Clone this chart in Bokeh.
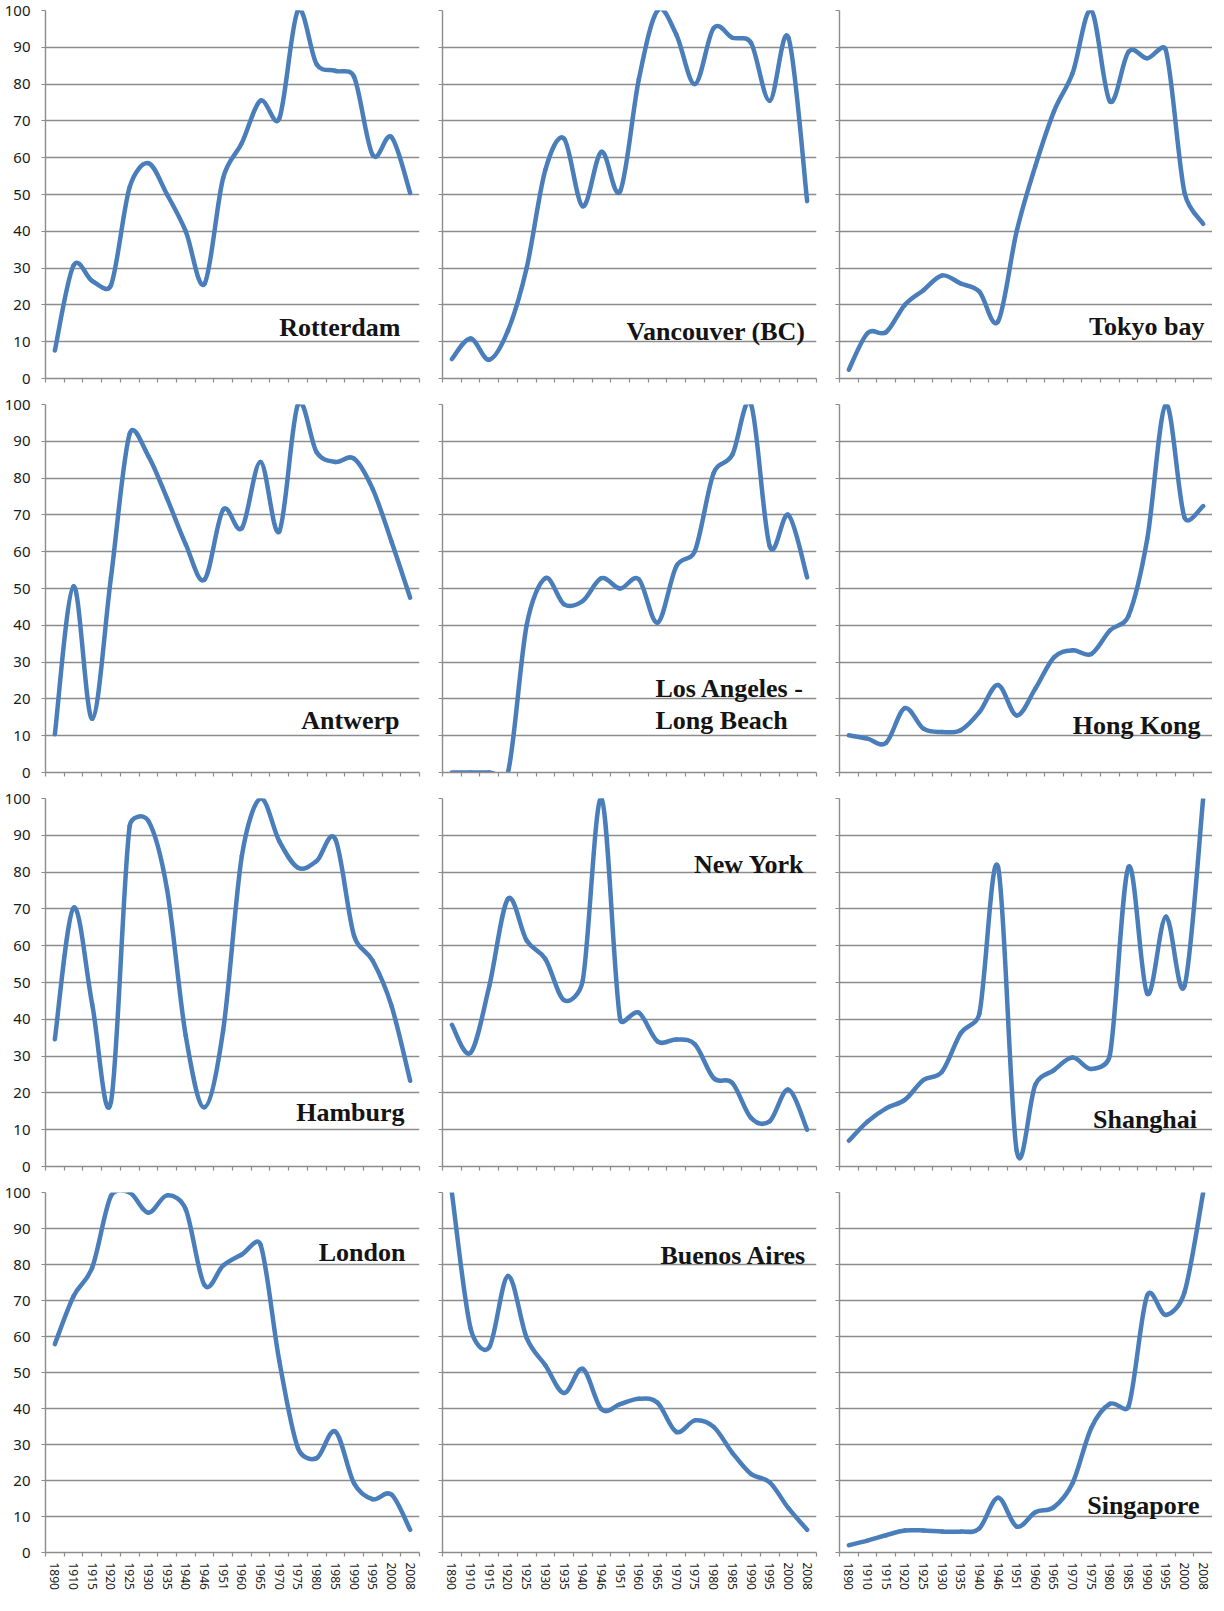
from bokeh.plotting import figure
from bokeh.layouts import gridplot
from bokeh.models import Range1d, FixedTicker, Label
from bokeh.embed import file_html
from bokeh.resources import INLINE
import math

years = ["1890", "1910", "1915", "1920", "1925", "1930", "1935", "1940", "1946", "1951",
         "1960", "1965", "1970", "1975", "1980", "1985", "1990", "1995", "2000", "2008"]

rotterdam = [7.6, 30.7, 26.5, 25.3, 52, 58.5, 50, 40, 25.7, 54.5, 64, 75.5, 70.6, 100, 85.4, 83.6, 82, 60.7, 65.6, 50.4]
vancouver = [5.3, 10.9, 5.1, 13, 30, 56.7, 65.2, 46.8, 61.6, 50.9, 81.3, 100, 93.5, 80, 95.2, 92.6, 91.2, 75.5, 92.6, 48.2]
tokyo_bay = [2.4, 12.3, 12.6, 20, 24, 28, 25.8, 23.6, 15.5, 40, 57.7, 72.6, 83, 100, 75.3, 88.8, 87, 89.2, 50.5, 42]
antwerp = [10.4, 50.6, 14.6, 53, 92, 86, 74.5, 62, 52.4, 71.4, 66.4, 84.4, 65.5, 100, 87, 84.4, 85.3, 77, 62.8, 47.5]
los_angeles = [0, 0, 0, 0, 40, 52.8, 45.7, 46.6, 52.8, 50, 52.5, 40.7, 56, 60.2, 81.4, 86.4, 100, 61.5, 70, 53]
hong_kong = [10.1, 9.2, 8.1, 17.5, 11.9, 11, 11.5, 16.4, 23.8, 15.5, 22.8, 31.3, 33.2, 32.2, 38.6, 42.6, 63.4, 100, 69.3, 72.4]
hamburg = [34.6, 70.3, 44, 17.5, 92.5, 93.9, 75.3, 35.5, 16.1, 37, 84.4, 100, 88.4, 81.2, 83, 88.9, 62.7, 55.9, 43.7, 23.3]
new_york = [38.5, 30.9, 49, 72.7, 61.4, 56.4, 45.2, 50.5, 100, 40, 41.8, 34, 34.5, 33.2, 24, 22.7, 13.2, 12.3, 20.9, 10]
shanghai = [7, 12.2, 15.8, 18.1, 23.5, 25.8, 36.2, 41.6, 81.4, 4.3, 22.2, 26.2, 29.6, 26.5, 30.3, 81.4, 47, 67.9, 49.1, 100]
london = [57.9, 71.2, 79.2, 99, 100, 94.4, 99.2, 95.3, 74.3, 79.7, 82.8, 85.5, 53.3, 29, 26.2, 33.6, 19.2, 14.8, 16.1, 6.3]
buenos_aires = [100, 62.3, 57, 76.8, 59.6, 52, 44.3, 51, 39.8, 41.2, 42.7, 41.6, 33.5, 36.7, 34.9, 27.7, 21.8, 19.5, 12.3, 6.3]
singapore = [2, 3.3, 4.8, 6.1, 6.1, 5.8, 5.8, 6.7, 15.2, 7.2, 11.2, 12.6, 19.3, 34.6, 41.3, 40.6, 71.4, 66, 72.3, 100]

y_ticks = list(range(0, 101, 10))

# (series, [(text, x, y, align)])
panels = [
    [(rotterdam, [("Rotterdam", 19.48, 13.9, "right")]),
     (vancouver, [("Vancouver (BC)", 19.91, 12.8, "right")]),
     (tokyo_bay, [("Tokyo bay", 20.07, 14.1, "right")])],
    [(antwerp, [("Antwerp", 19.43, 14.0, "right")]),
     (los_angeles, [("Los Angeles -", 11.89, 22.7, "left"), ("Long Beach", 11.89, 14.0, "left")]),
     (hong_kong, [("Hong Kong", 19.86, 12.7, "right")])],
    [(hamburg, [("Hamburg", 19.7, 14.6, "right")]),
     (new_york, [("New York", 19.86, 82.1, "right")]),
     (shanghai, [("Shanghai", 19.67, 12.9, "right")])],
    [(london, [("London", 19.75, 83.3, "right")]),
     (buenos_aires, [("Buenos Aires", 19.97, 82.6, "right")]),
     (singapore, [("Singapore", 19.8, 13.0, "right")])],
]

GRID = "#8c8c8c"
LINE = "#4a7ebb"
LEFT = [45, 17, 17]
RIGHT = [6, 6, 0]
FW = [374, 374, 373]
FH = 368
TOP = 10
SX = 18.7          # px per category (for smoothing in screen space)
SY = FH / 100.0    # px per value unit


def bezier_parts(vals):
    """Excel-like smoothed line: Bezier segments whose control arms are 1/6 of the
    neighbour chord, limited to half of the segment length (screen space)."""
    n = len(vals)
    xs = list(range(1, n + 1))
    ex = [xs[0]] + xs + [xs[-1]]
    ey = [vals[0]] + list(vals) + [vals[-1]]
    d = dict(x0=[], y0=[], x1=[], y1=[], cx0=[], cy0=[], cx1=[], cy1=[])

    def dist(ax, ay, bx, by):
        return math.hypot((bx - ax) * SX, (by - ay) * SY)

    for i in range(n - 1):
        xm, x0, x1, x2 = ex[i], ex[i + 1], ex[i + 2], ex[i + 3]
        ym, y0, y1, y2 = ey[i], ey[i + 1], ey[i + 2], ey[i + 3]
        d12 = dist(x0, y0, x1, y1)
        d02 = dist(xm, ym, x1, y1)
        d13 = dist(x0, y0, x2, y2)
        f0 = 1 / 6.0 if d02 / 6.0 < d12 / 2.0 else (d12 / 2.0) / d02
        f1 = 1 / 6.0 if d13 / 6.0 < d12 / 2.0 else (d12 / 2.0) / d13
        d["x0"].append(x0); d["y0"].append(y0)
        d["x1"].append(x1); d["y1"].append(y1)
        d["cx0"].append(x0 + (x1 - xm) * f0); d["cy0"].append(y0 + (y1 - ym) * f0)
        d["cx1"].append(x1 - (x2 - x0) * f1); d["cy1"].append(y1 - (y2 - y0) * f1)
    return d


rows = []
for r, row_panels in enumerate(panels):
    row = []
    for c, (vals, labels) in enumerate(row_panels):
        bottom = 16 if r < 3 else 32
        p = figure(width=LEFT[c] + FW[c] + RIGHT[c], height=TOP + FH + bottom,
                   x_range=Range1d(0.5, 20.5), y_range=Range1d(0, 100),
                   output_backend="svg", toolbar_location=None,
                   min_border_left=LEFT[c], min_border_right=RIGHT[c],
                   min_border_top=TOP, min_border_bottom=bottom)
        p.outline_line_color = None
        p.background_fill_color = "white"
        p.border_fill_color = "white"

        p.xgrid.grid_line_color = None
        p.ygrid.ticker = FixedTicker(ticks=y_ticks)
        p.ygrid.grid_line_color = GRID
        p.ygrid.grid_line_width = 1.4

        xa = p.xaxis[0]
        xa.ticker = FixedTicker(ticks=list(range(1, 21)), minor_ticks=[i + 0.5 for i in range(21)])
        xa.axis_line_color = GRID
        xa.axis_line_width = 1.4
        xa.major_tick_out = 0
        xa.major_tick_in = 0
        xa.minor_tick_out = 4
        xa.minor_tick_in = 0
        xa.minor_tick_line_color = GRID
        xa.minor_tick_line_width = 1.2
        if r == 3:
            xa.major_label_overrides = {i + 1: years[i] for i in range(20)}
            xa.major_label_orientation = "vertical"
            xa.major_label_text_font = "Noto Sans"
            xa.major_label_text_font_size = "12px"
            xa.major_label_text_color = "#1a1a1a"
            xa.major_label_standoff = 6
        else:
            xa.major_label_overrides = {i + 1: "" for i in range(20)}
            xa.major_label_text_font_size = "10px"
            xa.major_label_standoff = 0

        ya = p.yaxis[0]
        ya.ticker = FixedTicker(ticks=y_ticks)
        ya.axis_line_color = GRID
        ya.axis_line_width = 1.4
        ya.major_tick_out = 4
        ya.major_tick_in = 0
        ya.major_tick_line_color = GRID
        ya.major_tick_line_width = 1.2
        ya.minor_tick_line_color = None
        if c == 0:
            ya.major_label_text_font = "Noto Sans"
            ya.major_label_text_font_size = "15px"
            ya.major_label_text_color = "#1a1a1a"
            ya.major_label_standoff = 11
        else:
            ya.major_label_overrides = {t: "" for t in y_ticks}
            ya.major_label_text_font_size = "10px"
            ya.major_label_standoff = 0

        b = bezier_parts(vals)
        p.bezier(x0=b["x0"], y0=b["y0"], x1=b["x1"], y1=b["y1"],
                 cx0=b["cx0"], cy0=b["cy0"], cx1=b["cx1"], cy1=b["cy1"],
                 line_color=LINE, line_width=4.5, line_cap="round")

        for text, lx, ly, align in labels:
            p.add_layout(Label(x=lx, y=ly, text=text, text_align=align,
                               text_baseline="alphabetic",
                               text_font="Liberation Serif", text_font_style="bold",
                               text_font_size="26px", text_color="#141414"))
        row.append(p)
    rows.append(row)

grid = gridplot(rows, toolbar_location=None)
open("out.html", "w").write(file_html(grid, INLINE))
